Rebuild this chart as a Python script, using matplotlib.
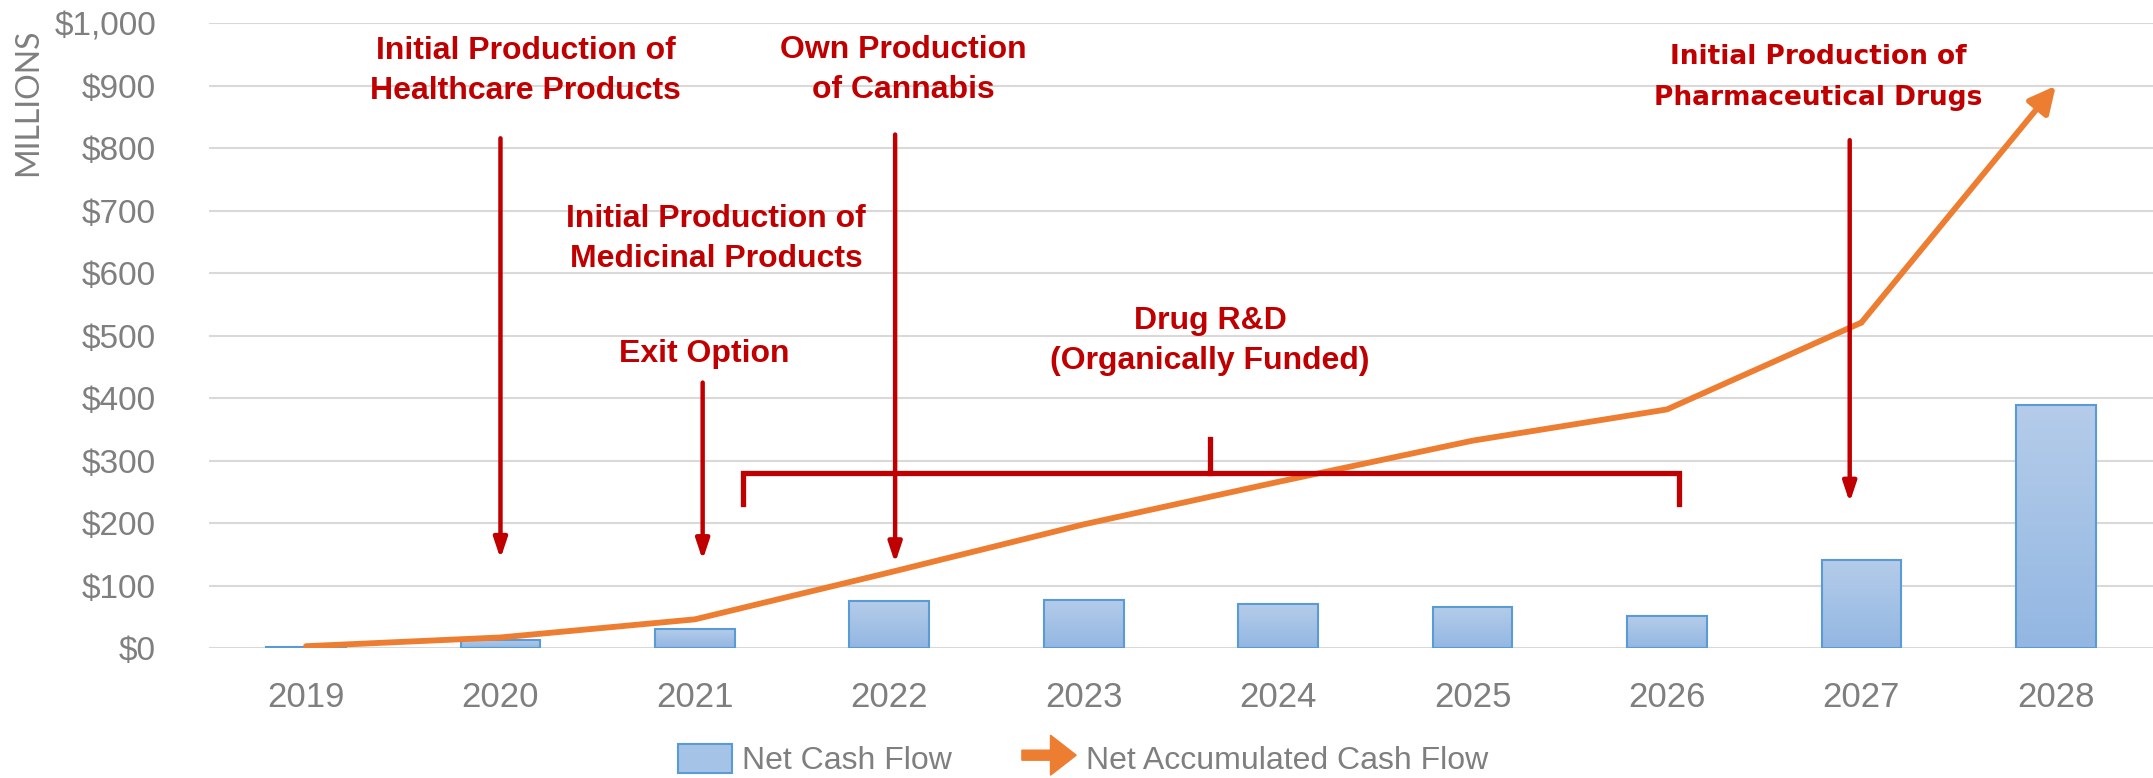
import matplotlib
matplotlib.use("Agg")
import matplotlib.pyplot as plt
import numpy as np
from matplotlib.patches import Patch, FancyArrow
from matplotlib.legend_handler import HandlerPatch

years = ["2019", "2020", "2021", "2022", "2023", "2024", "2025", "2026", "2027", "2028"]
net_cash_flow = [2, 13, 31, 75, 77, 70, 66, 51, 141, 389]
net_accumulated = [3, 17, 46, 121, 198, 266, 332, 382, 521, 900]

RED = "#C00000"
ORANGE = "#ED7D31"
GRAY = "#7F7F7F"
FONT = "Liberation Sans"

fig = plt.figure(figsize=(21.53, 7.78), dpi=100)
ax = fig.add_axes([0.097, 0.167, 0.903, 0.803])

x = np.arange(len(years))
bars = ax.bar(x, net_cash_flow, width=0.41, color="none", edgecolor="#5B9BD5", linewidth=1.5, zorder=3)
grad = np.linspace(0, 1, 100).reshape(-1, 1)
cmap = matplotlib.colors.LinearSegmentedColormap.from_list("g", ["#B5CCEA", "#93B7E2"])
for b in bars:
    x0, w, h = b.get_x(), b.get_width(), b.get_height()
    im = ax.imshow(grad, extent=[x0, x0 + w, 0, h], aspect="auto", cmap=cmap, zorder=2, origin="upper")
    im.set_clip_path(b)

ax.plot(x[:-1], net_accumulated[:-1], color=ORANGE, linewidth=4.2, solid_capstyle="round", zorder=4)
ax.annotate("", xy=(x[-1], net_accumulated[-1]), xytext=(x[-2], net_accumulated[-2]),
            arrowprops=dict(arrowstyle="-|>,head_length=1.6,head_width=0.8", color=ORANGE, lw=4.2,
                            shrinkA=0, shrinkB=0), zorder=4)

ax.set_xlim(-0.5, 9.5)
ax.set_ylim(0, 1000)
ax.set_yticks(range(0, 1001, 100))
ax.set_yticklabels([f"${v:,}" for v in range(0, 1001, 100)], fontsize=24, color=GRAY, family=FONT)
ax.set_xticks(x)
ax.set_xticklabels(years, fontsize=25, color=GRAY, family=FONT)
ax.tick_params(length=0)
ax.tick_params(axis="x", pad=24)
ax.tick_params(axis="y", pad=38)
ax.grid(axis="y", color="#D9D9D9", linewidth=1.5, zorder=0)
ax.set_axisbelow(True)
for s in ax.spines.values():
    s.set_visible(False)

fig.text(0.013, 0.868, "MILLIONS", rotation=90, fontsize=23, color=GRAY, ha="center", va="center",
         family="Lato")

# annotations
txt = dict(color=RED, fontsize=23, fontweight="bold", ha="center", va="center", family=FONT,
           linespacing=1.45, zorder=6)
ax.text(1.13, 924, "Initial Production of\nHealthcare Products", **txt)
ax.text(3.07, 925, "Own Production\nof Cannabis", **txt)
ax.text(2.11, 655, "Initial Production of\nMedicinal Products", **txt)
ax.text(2.05, 470, "Exit Option", **txt)
ax.text(4.65, 492, "Drug R&D\n(Organically Funded)", **txt)
ax.text(7.78, 914, "Initial Production of\nPharmaceutical Drugs", color=RED, fontsize=19, fontweight="bold",
        ha="center", va="center", family="DejaVu Sans", linespacing=1.75, zorder=6)

arrow = dict(arrowstyle="-|>,head_length=1.2,head_width=0.4", color=RED, lw=3.2, shrinkA=0, shrinkB=0)
for ax_x, y_top, y_bot in [(1.0, 816, 143), (2.04, 425, 141), (3.03, 822, 136), (7.94, 813, 233)]:
    ax.annotate("", xy=(ax_x, y_bot), xytext=(ax_x, y_top), arrowprops=arrow, zorder=5)

# bracket
ax.plot([2.25, 2.25, 7.06, 7.06], [231, 281, 281, 231], color=RED, lw=3.8, zorder=5, solid_joinstyle="miter")
ax.plot([4.65, 4.65], [281, 334], color=RED, lw=3.8, zorder=5)


def make_arrow(legend, orig_handle, xdescent, ydescent, width, height, fontsize):
    return FancyArrow(0, height / 2, width, 0, width=height * 0.35, head_width=height * 1.4,
                      head_length=height * 0.9, length_includes_head=True, color=ORANGE)


h1 = Patch(facecolor="#A5C3E6", edgecolor="#5B9BD5", linewidth=1.5, label="Net Cash Flow")
h2 = FancyArrow(0, 0, 1, 0, color=ORANGE, label="Net Accumulated Cash Flow")
fig.legend(handles=[h1, h2], loc="lower center", bbox_to_anchor=(0.503, -0.035), ncol=2, frameon=False,
           prop=dict(family=FONT, size=23), labelcolor=GRAY, handlelength=1.7, handleheight=1.0,
           columnspacing=2.2, handletextpad=0.3,
           handler_map={FancyArrow: HandlerPatch(patch_func=make_arrow)})

fig.savefig("out.png", dpi=100)
